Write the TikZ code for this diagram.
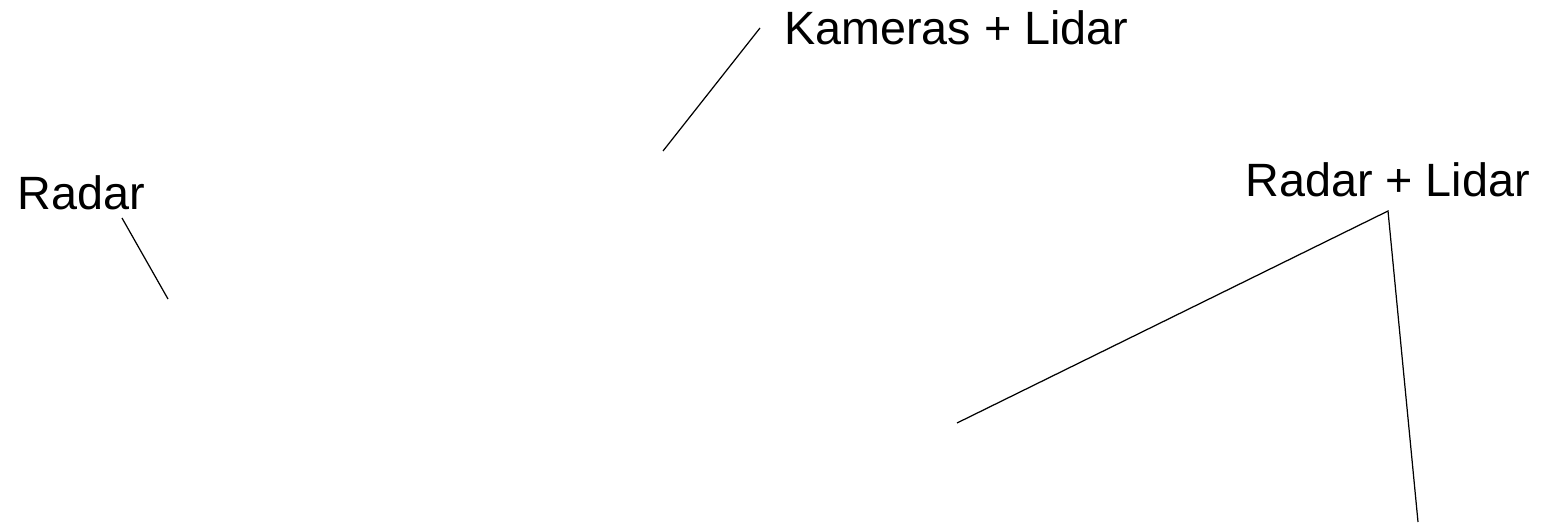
\documentclass[tikz,border=0pt]{standalone}
\usepackage{fontspec}
\setmainfont{Liberation Sans}
\begin{document}
\begin{tikzpicture}[x=0.02cm,y=-0.02cm,
  lbl/.style={anchor=base west,inner sep=0pt,font=\fontsize{26.6}{32}\selectfont},
  leader/.style={draw=black,line width=0.7pt}]
\useasboundingbox (0,0) rectangle (1541,523);
\node[lbl] (kam) at (784,45) {Kameras + Lidar};
\node[lbl] (rad) at (17,210) {Radar};
\node[lbl] (radlid) at (1245,197) {Radar + Lidar};
\coordinate (kamA) at (760,28);
\coordinate (kamB) at (663,151);
\coordinate (radA) at (122,218);
\coordinate (radB) at (168,299);
\coordinate (rlA) at (1388,211);
\coordinate (rlB) at (957,423);
\coordinate (rlC) at (1418,522);
\draw[leader] (kamA) -- (kamB);
\draw[leader] (radA) -- (radB);
\draw[leader] (rlB) -- (rlA) -- (rlC);
\end{tikzpicture}
\end{document}
